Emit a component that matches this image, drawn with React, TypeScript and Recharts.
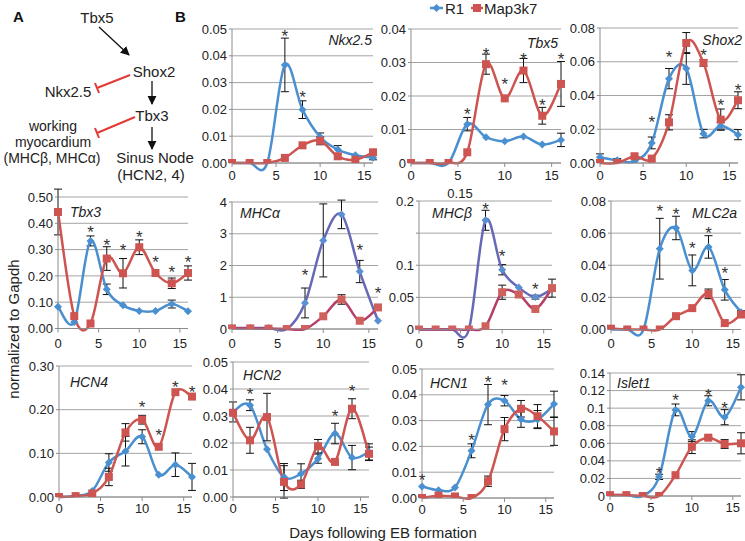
import React from "react";
import { LineChart, Line, XAxis, YAxis, CartesianGrid, ErrorBar } from "recharts";

const days = [0, 2, 4, 6, 8, 10, 12, 14, 16];
const dayTicks = [0, 5, 10, 15];

// Nkx2.5
const nkxR1 = [0, 0, 0, 0.0366, 0.0199, 0.0097, 0.005, 0.0029, 0.002];
const nkxMap = [0, 0, 0, 0.0019, 0.0066, 0.0083, 0.0025, 0.0012, 0.004];
const nkxR1Err = [null, null, null, 0.01, 0.0033, 0.0015, 0.0015, null, 0.0008];
const nkxMapErr = [null, null, null, null, null, 0.0015, null, null, 0.001];
const nkxStars = [null, null, null, 0.049, 0.026, null, null, null, null];
const nkxTicks = [0, 0.01, 0.02, 0.03, 0.04, 0.05];
const nkxLabels = ["0.00", "0.01", "0.02", "0.03", "0.04", "0.05"];

// Tbx5
const tbx5R1 = [0, 0, 0, 0.0116, 0.0077, 0.0065, 0.0079, 0.0055, 0.0069];
const tbx5Map = [0, 0, 0, 0.0032, 0.0295, 0.0193, 0.0276, 0.0141, 0.0236];
const tbx5R1Err = [null, null, null, 0.002, null, null, null, null, 0.002];
const tbx5MapErr = [null, null, null, null, 0.003, null, 0.0036, 0.0025, 0.0067];
const tbx5Stars = [null, null, null, 0.0159, 0.0337, 0.0248, 0.0323, 0.0184, 0.0323];
const tbx5Ticks = [0, 0.01, 0.02, 0.03, 0.04];
const tbx5Labels = ["0", "0.01", "0.02", "0.03", "0.04"];

// Shox2
const shoxR1 = [0.0034, 0.0016, 0.001, 0.0119, 0.05, 0.056, 0.0174, 0.0221, 0.0168];
const shoxMap = [0, 0, 0.004, 0.0026, 0.0241, 0.0711, 0.0593, 0.0257, 0.0372];
const shoxR1Err = [0.002, 0.001, null, 0.0035, 0.006, 0.0094, 0.0025, 0.002, 0.003];
const shoxMapErr = [null, null, null, null, 0.0045, 0.0062, 0.002, 0.0063, 0.005];
const shoxStars = [null, null, null, 0.0267, 0.0652, null, 0.0662, 0.0366, 0.0455];
const shoxTicks = [0, 0.02, 0.04, 0.06, 0.08];
const shoxLabels = ["0.00", "0.02", "0.04", "0.06", "0.08"];

// Tbx3
const tbx3R1 = [0.083, 0.025, 0.333, 0.149, 0.088, 0.067, 0.067, 0.093, 0.066];
const tbx3Map = [0.443, 0.047, 0.019, 0.266, 0.21, 0.309, 0.211, 0.172, 0.211];
const tbx3R1Err = [null, null, 0.019, 0.02, null, null, null, 0.015, null];
const tbx3MapErr = [0.087, null, null, 0.045, 0.056, 0.028, null, 0.02, 0.027];
const tbx3Stars = [0.547, null, 0.382, 0.331, 0.314, 0.365, 0.267, 0.229, 0.267];
const tbx3Ticks = [0, 0.1, 0.2, 0.3, 0.4, 0.5];
const tbx3Labels = ["0.00", "0.10", "0.20", "0.30", "0.40", "0.50"];

// MHCα
const mhcaR1 = [0.03, 0.03, 0.03, 0, 0.82, 2.79, 3.61, 1.81, 0.26];
const mhcaMap = [0.02, 0.02, 0.01, 0, 0, 0.4, 0.93, 0.26, 0.68];
const mhcaR1Err = [null, null, null, null, 0.47, 1.15, 0.45, 0.35, null];
const mhcaMapErr = [null, null, null, null, null, null, 0.15, null, null];
const mhcaStars = [null, null, null, null, 1.84, null, 4.32, 2.6, 1.26];
const mhcaTicks = [0, 1, 2, 3, 4];
const mhcaLabels = ["0", "1", "2", "3", "4"];

// MHCβ
const mhcbR1 = [0, 0, 0, 0, 0.17, 0.093, 0.0655, 0.0504, 0.0634];
const mhcbMap = [0, 0, 0, 0, 0.005, 0.058, 0.0545, 0.032, 0.0644];
const mhcbR1Err = [null, null, null, null, 0.0156, 0.008, null, 0.003, null];
const mhcbMapErr = [null, null, null, null, null, 0.011, null, null, 0.014];
const mhcbStars = [null, null, null, null, 0.193, 0.1205, null, 0.0686, null];
const mhcbTicks = [0, 0.05, 0.1, 0.15, 0.2];
const mhcbLabels = ["0", "0.05", "0.1", "", "0.2"];

// MLC2a
const mlcR1 = [0, 0, 0, 0.0503, 0.0632, 0.0368, 0.0514, 0.0247, 0.0108];
const mlcMap = [0.0005, 0, 0, 0, 0.0083, 0.0133, 0.0222, 0.004, 0.0094];
const mlcR1Err = [null, null, null, 0.0189, 0.0073, 0.0096, 0.007, 0.0064, 0.001];
const mlcMapErr = [null, null, null, null, null, null, 0.003, null, 0.002];
const mlcStars = [null, null, null, 0.0763, 0.0742, 0.0534, 0.0628, 0.0378, null];
const mlcTicks = [0, 0.02, 0.04, 0.06, 0.08];
const mlcLabels = ["0.00", "0.02", "0.04", "0.06", "0.08"];

// HCN4
const hcn4R1 = [0, 0.003, 0.014, 0.079, 0.105, 0.138, 0.051, 0.074, 0.046];
const hcn4Map = [0, 0.002, 0.008, 0.046, 0.148, 0.177, 0.115, 0.24, 0.23];
const hcn4R1Err = [null, null, null, 0.02, 0.034, 0.016, null, 0.027, 0.031];
const hcn4MapErr = [null, null, null, 0.02, 0.02, 0.01, null, null, null];
const hcn4Stars = [null, null, null, null, null, 0.216, 0.151, 0.262, 0.249];
const hcn4Ticks = [0, 0.1, 0.2, 0.3];
const hcn4Labels = ["0.00", "0.10", "0.20", "0.30"];

// HCN2
const hcn2R1 = [0.0315, 0.034, 0.0177, 0.0074, 0.0086, 0.0142, 0.0235, 0.0146, 0.0167];
const hcn2Map = [0.0312, 0.021, 0.0296, 0.0056, 0.0047, 0.0188, 0.013, 0.0327, 0.016];
const hcn2R1Err = [0.0037, 0.002, null, 0.005, 0.0037, 0.0017, 0.0038, 0.0045, 0.003];
const hcn2MapErr = [null, 0.0048, 0.0088, 0.006, 0.0015, 0.0025, null, 0.0037, 0.0025];
const hcn2Stars = [null, 0.0395, null, null, null, null, 0.0315, 0.0407, null];
const hcn2Ticks = [0, 0.01, 0.02, 0.03, 0.04, 0.05];
const hcn2Labels = ["0.00", "0.01", "0.02", "0.03", "0.04", "0.05"];

// HCN1
const hcn1R1 = [0.0045, 0.003, 0.0041, 0.0183, 0.0362, 0.0377, 0.0304, 0.0304, 0.0364];
const hcn1Map = [0, 0.0009, 0.0006, 0, 0.0065, 0.0267, 0.0346, 0.0317, 0.0258];
const hcn1R1Err = [null, null, null, 0.0027, 0.0078, 0.002, 0.003, 0.0035, 0.005];
const hcn1MapErr = [null, null, null, null, 0.002, 0.0045, 0.0032, 0.0045, 0.0054];
const hcn1Stars = [0.0087, null, null, 0.0239, 0.0465, 0.0452, null, null, null];
const hcn1Ticks = [0, 0.01, 0.02, 0.03, 0.04, 0.05];
const hcn1Labels = ["0.00", "0.01", "0.02", "0.03", "0.04", "0.05"];

// Islet1
const islR1 = [0.001, 0.001, 0, 0.0218, 0.098, 0.0676, 0.1084, 0.0897, 0.1237];
const islMap = [0.001, 0.001, 0, 0, 0.0237, 0.0561, 0.0664, 0.0592, 0.06];
const islR1Err = [null, null, null, 0.003, 0.0067, 0.0057, 0.0057, 0.0086, 0.0143];
const islMapErr = [null, null, null, null, null, 0.0078, 0.002, 0.005, 0.012];
const islStars = [null, null, null, 0.0313, 0.1134, null, 0.119, 0.105, 0.144];
const islTicks = [0, 0.02, 0.04, 0.06, 0.08, 0.1, 0.12, 0.14];
const islLabels = ["0", "0.02", "0.04", "0.06", "0.08", "0.1", "0.12", "0.14"];

const FONT = "'Liberation Sans', Arial, Helvetica, sans-serif";

const stdColors = { r1Line: "#4a8fcf", r1Dot: "#4a8fcf", mapLine: "#cd5450", mapDot: "#cd5450" };
const mhcColors = { r1Line: "#6569b6", r1Dot: "#5a8fd0", mapLine: "#b43f68", mapDot: "#d0605c" };

// x0/x1 = pixel of day 0 / day 16, yT/yB = pixel of top tick / zero
const panels = [
  { gene: "Nkx2.5", r1: nkxR1, map: nkxMap, r1Err: nkxR1Err, mapErr: nkxMapErr, stars: nkxStars, ticks: nkxTicks, labels: nkxLabels,
    x0: 232, x1: 373, yT: 29, yB: 163, lx: 372, ly: 40, anchor: "end", tdy: 12, colors: stdColors },
  { gene: "Tbx5", r1: tbx5R1, map: tbx5Map, r1Err: tbx5R1Err, mapErr: tbx5MapErr, stars: tbx5Stars, ticks: tbx5Ticks, labels: tbx5Labels,
    x0: 411, x1: 561, yT: 29, yB: 163, lx: 527, ly: 43, anchor: "start", tdy: 12, colors: stdColors },
  { gene: "Shox2", r1: shoxR1, map: shoxMap, r1Err: shoxR1Err, mapErr: shoxMapErr, stars: shoxStars, ticks: shoxTicks, labels: shoxLabels,
    x0: 600, x1: 738, yT: 28, yB: 163, lx: 742, ly: 40, anchor: "end", tdy: 12, colors: stdColors },
  { gene: "Tbx3", r1: tbx3R1, map: tbx3Map, r1Err: tbx3R1Err, mapErr: tbx3MapErr, stars: tbx3Stars, ticks: tbx3Ticks, labels: tbx3Labels,
    x0: 58, x1: 188, yT: 197, yB: 328.5, lx: 70, ly: 212, anchor: "start", tdy: 14.5, colors: stdColors },
  { gene: "MHCα", r1: mhcaR1, map: mhcaMap, r1Err: mhcaR1Err, mapErr: mhcaMapErr, stars: mhcaStars, ticks: mhcaTicks, labels: mhcaLabels,
    x0: 232, x1: 378, yT: 201.5, yB: 328.5, lx: 240, ly: 213, anchor: "start", tdy: 14.5, colors: mhcColors },
  { gene: "MHCβ", r1: mhcbR1, map: mhcbMap, r1Err: mhcbR1Err, mapErr: mhcbMapErr, stars: mhcbStars, ticks: mhcbTicks, labels: mhcbLabels,
    x0: 419, x1: 552, yT: 200.5, yB: 329, lx: 432, ly: 213, anchor: "start", tdy: 14, colors: mhcColors },
  { gene: "MLC2a", r1: mlcR1, map: mlcMap, r1Err: mlcR1Err, mapErr: mlcMapErr, stars: mlcStars, ticks: mlcTicks, labels: mlcLabels,
    x0: 611, x1: 741, yT: 200.5, yB: 329, lx: 692, ly: 213, anchor: "start", tdy: 14, colors: stdColors },
  { gene: "HCN4", r1: hcn4R1, map: hcn4Map, r1Err: hcn4R1Err, mapErr: hcn4MapErr, stars: hcn4Stars, ticks: hcn4Ticks, labels: hcn4Labels,
    x0: 59, x1: 192, yT: 366, yB: 497, lx: 70, ly: 382, anchor: "start", tdy: 11, colors: stdColors },
  { gene: "HCN2", r1: hcn2R1, map: hcn2Map, r1Err: hcn2R1Err, mapErr: hcn2MapErr, stars: hcn2Stars, ticks: hcn2Ticks, labels: hcn2Labels,
    x0: 233, x1: 369, yT: 362, yB: 497, lx: 243, ly: 375, anchor: "start", tdy: 11, colors: stdColors },
  { gene: "HCN1", r1: hcn1R1, map: hcn1Map, r1Err: hcn1R1Err, mapErr: hcn1MapErr, stars: hcn1Stars, ticks: hcn1Ticks, labels: hcn1Labels,
    x0: 422, x1: 554, yT: 369, yB: 498, lx: 430, ly: 383, anchor: "start", tdy: 11, colors: stdColors },
  { gene: "Islet1", r1: islR1, map: islMap, r1Err: islR1Err, mapErr: islMapErr, stars: islStars, ticks: islTicks, labels: islLabels,
    x0: 610, x1: 741, yT: 373, yB: 496, lx: 617, ly: 383, anchor: "start", tdy: 11, colors: stdColors },
];

// Excel-like smoothed line (Catmull-Rom through the points)
function excelSmooth(context: any) {
  let pts: number[][] = [];
  return {
    areaStart() {},
    areaEnd() {},
    lineStart() {
      pts = [];
    },
    point(x: number, y: number) {
      pts.push([+x, +y]);
    },
    lineEnd() {
      const n = pts.length;
      if (!n) return;
      context.moveTo(pts[0][0], pts[0][1]);
      for (let i = 0; i < n - 1; i++) {
        const p0 = pts[Math.max(i - 1, 0)];
        const p1 = pts[i];
        const p2 = pts[i + 1];
        const p3 = pts[Math.min(i + 2, n - 1)];
        context.bezierCurveTo(
          p1[0] + (p2[0] - p0[0]) / 6,
          p1[1] + (p2[1] - p0[1]) / 6,
          p2[0] - (p3[0] - p1[0]) / 6,
          p2[1] - (p3[1] - p1[1]) / 6,
          p2[0],
          p2[1]
        );
      }
    },
  };
}

const diamond = (color: string) => (props: any) => {
  const { cx, cy, index } = props;
  if (cx == null || cy == null) return <g key={`d${index}`} />;
  const r = 4;
  return <path key={`d${index}`} d={`M${cx},${cy - r}L${cx + r},${cy}L${cx},${cy + r}L${cx - r},${cy}Z`} fill={color} />;
};

const square = (color: string) => (props: any) => {
  const { cx, cy, index } = props;
  if (cx == null || cy == null) return <g key={`q${index}`} />;
  return <rect key={`q${index}`} x={cx - 4} y={cy - 4} width={8} height={8} fill={color} />;
};

const starDot = (props: any) => {
  const { cx, cy, index, payload } = props;
  if (payload == null || payload.star == null || cy == null) return <g key={`s${index}`} />;
  return (
    <text key={`s${index}`} x={cx} y={cy + 10} textAnchor="middle" fontSize={17} fill="#333" fontFamily={FONT}>
      *
    </text>
  );
};

function Panel({ p }: { p: any }) {
  const data = days.map((d, i) => ({
    day: d,
    r1: p.r1[i],
    map: p.map[i],
    r1Err: p.r1Err[i],
    mapErr: p.mapErr[i],
    star: p.stars[i],
  }));
  const yW = 40;
  const mTop = 26;
  const mRight = 8;
  const xH = 24;
  const width = p.x1 - p.x0 + yW + mRight;
  const height = p.yB - p.yT + mTop + xH;
  const tickStyle = { fontSize: 13, fill: "#222", fontFamily: FONT };
  return (
    <div style={{ position: "absolute", left: p.x0 - yW, top: p.yT - mTop }}>
      <LineChart width={width} height={height} data={data} margin={{ top: mTop, right: mRight, left: 0, bottom: 0 }}>
        <CartesianGrid vertical={false} stroke="#a3a3a3" />
        <XAxis
          dataKey="day"
          type="number"
          domain={[0, 16]}
          ticks={dayTicks}
          interval={0}
          height={xH}
          tickSize={4}
          tickMargin={p.tdy - 8.5}
          stroke="#8c8c8c"
          tick={tickStyle}
        />
        <YAxis
          type="number"
          domain={[p.ticks[0], p.ticks[p.ticks.length - 1]]}
          ticks={p.ticks}
          interval={0}
          allowDataOverflow
          width={yW}
          tickSize={3}
          tickMargin={2}
          stroke="#8c8c8c"
          tick={tickStyle}
          tickFormatter={(v: number) => p.labels[p.ticks.indexOf(v)] ?? ""}
        />
        <Line
          dataKey="r1"
          type={excelSmooth as any}
          stroke={p.colors.r1Line}
          strokeWidth={2.5}
          dot={diamond(p.colors.r1Dot)}
          activeDot={false}
          isAnimationActive={false}
        >
          <ErrorBar dataKey="r1Err" width={4} stroke="#111" strokeWidth={1} direction="y" />
        </Line>
        <Line
          dataKey="map"
          type={excelSmooth as any}
          stroke={p.colors.mapLine}
          strokeWidth={2.5}
          dot={square(p.colors.mapDot)}
          activeDot={false}
          isAnimationActive={false}
        >
          <ErrorBar dataKey="mapErr" width={4} stroke="#111" strokeWidth={1} direction="y" />
        </Line>
        <Line dataKey="star" stroke="none" dot={starDot} activeDot={false} isAnimationActive={false} />
      </LineChart>
    </div>
  );
}

function Overlay() {
  const blue = stdColors.r1Line;
  const red = stdColors.mapLine;
  const inhib = "#e33a35";
  const txt = { fontFamily: FONT, fontSize: 15, fill: "#222" } as any;
  const small = { fontFamily: FONT, fontSize: 14, fill: "#222" } as any;
  return (
    <svg width={745} height={541} style={{ position: "absolute", left: 0, top: 0, pointerEvents: "none" }}>
      <defs>
        <marker id="arr" viewBox="0 0 10 10" refX="9" refY="5" markerWidth="7" markerHeight="7" orient="auto">
          <path d="M0,0L10,5L0,10Z" fill="#111" />
        </marker>
      </defs>
      {/* panel letters */}
      <text x={13} y={22} fontFamily={FONT} fontSize={15} fontWeight="bold" fill="#111">A</text>
      <text x={175} y={22} fontFamily={FONT} fontSize={15} fontWeight="bold" fill="#111">B</text>

      {/* pathway diagram */}
      <text x={97} y={23} textAnchor="middle" {...txt}>Tbx5</text>
      <line x1={99} y1={27} x2={129} y2={55} stroke="#111" strokeWidth={1.3} markerEnd="url(#arr)" />
      <text x={154} y={77} textAnchor="middle" {...txt}>Shox2</text>
      <line x1={130} y1={75} x2={97} y2={88} stroke={inhib} strokeWidth={2} />
      <line x1={95} y1={83} x2={99} y2={93} stroke={inhib} strokeWidth={2} />
      <text x={68} y={97} textAnchor="middle" {...txt}>Nkx2.5</text>
      <line x1={152} y1={81} x2={152} y2={104} stroke="#111" strokeWidth={1.3} markerEnd="url(#arr)" />
      <text x={152} y={121} textAnchor="middle" {...txt}>Tbx3</text>
      <line x1={135} y1={117} x2={97} y2={133} stroke={inhib} strokeWidth={2} />
      <line x1={95} y1={128} x2={99} y2={138} stroke={inhib} strokeWidth={2} />
      <text x={53} y={131} textAnchor="middle" {...small}>working</text>
      <text x={53} y={147} textAnchor="middle" {...small}>myocardium</text>
      <text x={52} y={163} textAnchor="middle" {...small}>(MHCβ, MHCα)</text>
      <line x1={152} y1={127} x2={152} y2={149} stroke="#111" strokeWidth={1.3} markerEnd="url(#arr)" />
      <text x={155} y={163} textAnchor="middle" {...txt}>Sinus Node</text>
      <text x={151} y={180} textAnchor="middle" {...txt}>(HCN2, 4)</text>

      {/* legend */}
      <line x1={430} y1={8} x2={443} y2={8} stroke={blue} strokeWidth={2.5} />
      <path d="M436.5,4L440.5,8L436.5,12L432.5,8Z" fill={blue} />
      <text x={445} y={13.5} {...txt}>R1</text>
      <line x1={471} y1={8} x2={483} y2={8} stroke={red} strokeWidth={2.5} />
      <rect x={473} y={4} width={8} height={8} fill={red} />
      <text x={484} y={13.5} {...txt}>Map3k7</text>

      {/* gene names */}
      {panels.map((p) => (
        <text key={p.gene} x={p.lx} y={p.ly + 5} textAnchor={p.anchor} fontFamily={FONT} fontSize={14} fontStyle="italic" fill="#222">
          {p.gene}
        </text>
      ))}
      <text x={460} y={197.5} textAnchor="middle" fontFamily={FONT} fontSize={13} fill="#222">0.15</text>

      {/* axis titles */}
      <text x={383} y={538} textAnchor="middle" {...txt}>Days following EB formation</text>
      <text x={19} y={329} textAnchor="middle" transform="rotate(-90 19 329)" {...txt}>normalized to Gapdh</text>
    </svg>
  );
}

export default function App() {
  return (
    <div
      style={{
        position: "absolute",
        left: 0,
        top: 0,
        width: 745,
        height: 541,
        overflow: "hidden",
        background: "#fff",
        fontFamily: FONT,
      }}
    >
      <style>{`.recharts-line, .recharts-line * { clip-path: none !important; }`}</style>
      {panels.map((p) => (
        <Panel key={p.gene} p={p} />
      ))}
      <Overlay />
    </div>
  );
}
